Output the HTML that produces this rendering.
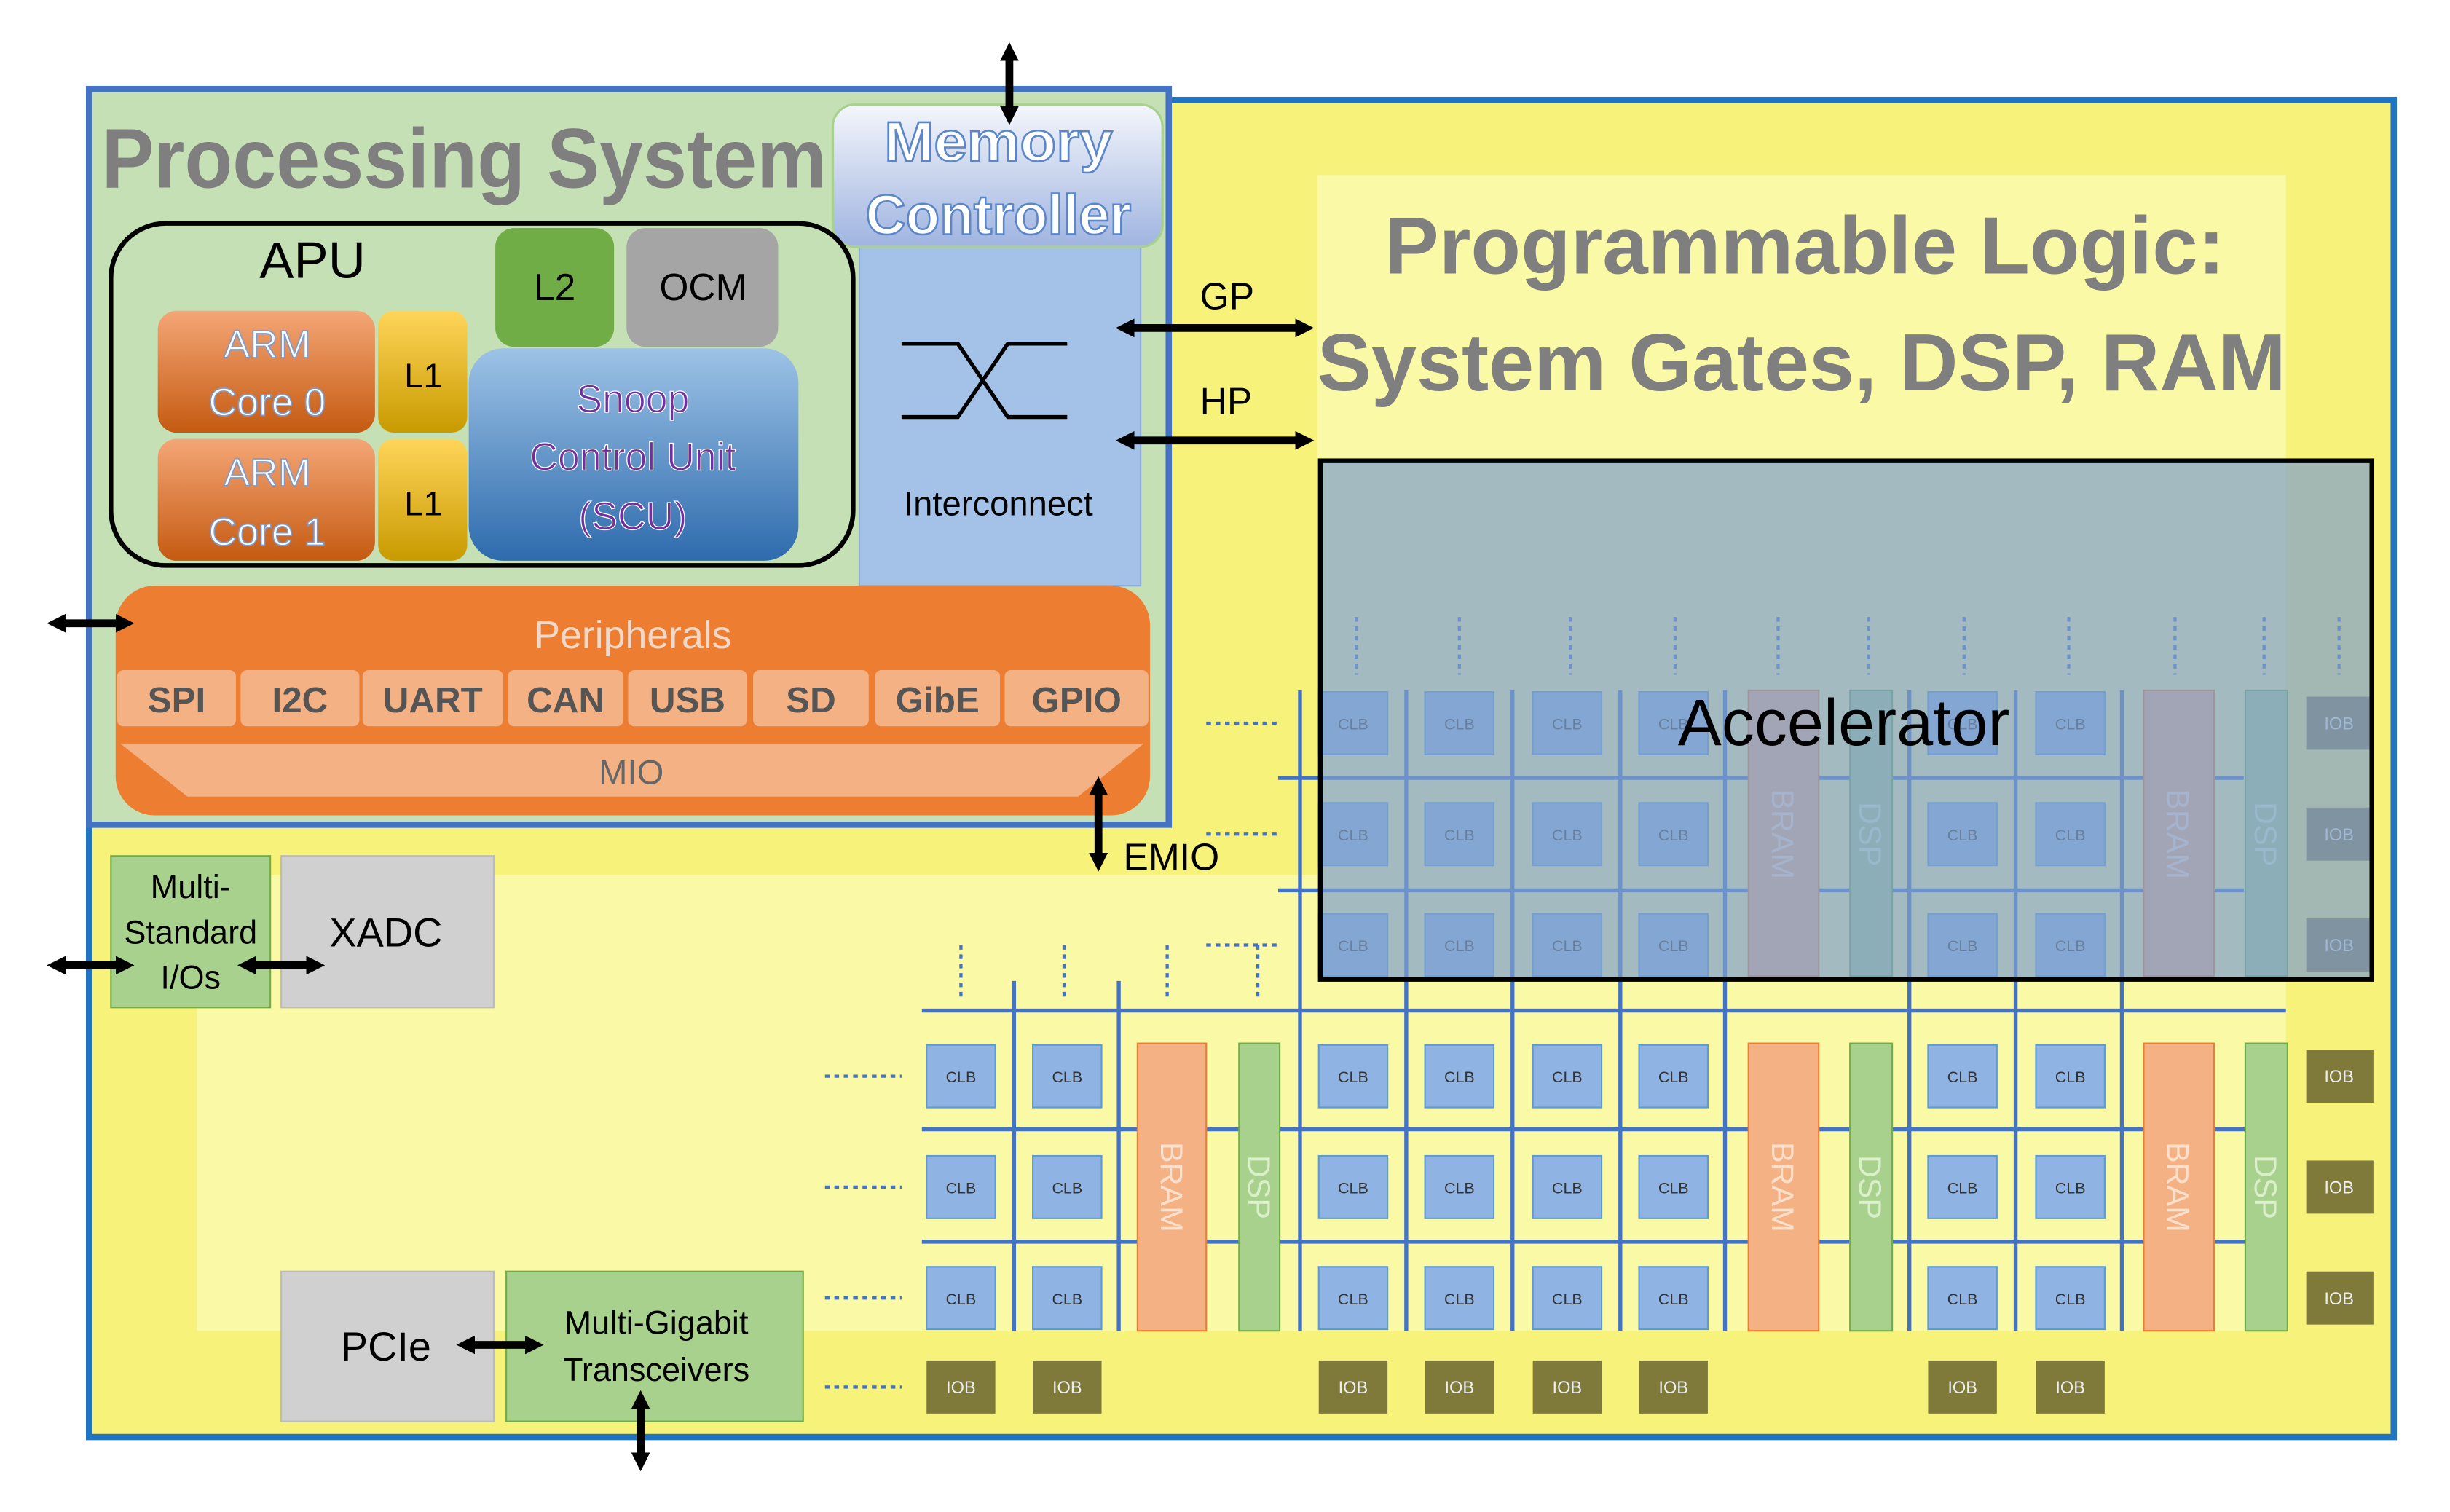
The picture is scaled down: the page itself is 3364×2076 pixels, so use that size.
<!DOCTYPE html>
<html><head><meta charset="utf-8"><style>
html,body{margin:0;padding:0;background:#fff;}
svg{display:block;}
text{font-family:"Liberation Sans",sans-serif;}
.clb rect{fill:#8fb4e3;stroke:#5b9bd5;stroke-width:1}
.clbt{font-size:10px;fill:#333;text-anchor:middle;}
.iob{fill:#7f7a3a;}
.iobt{font-size:11px;fill:#eee;text-anchor:middle;}
.tab{fill:#f4b183;}
.tabt{font-size:23px;fill:#555;text-anchor:middle;font-weight:bold;}
.vl{stroke:#4472c4;stroke-width:2.5;}
.dl{stroke:#4472c4;stroke-width:2;stroke-dasharray:3 3;}
</style></head><body>
<svg width="3364" height="2076" viewBox="0 0 1568 968" preserveAspectRatio="none" xmlns="http://www.w3.org/2000/svg">
<defs>
<marker id="ah" markerWidth="12" markerHeight="12" refX="7" refY="6" orient="auto-start-reverse" markerUnits="userSpaceOnUse"><path d="M0,0 L12,6 L0,12 z" fill="#000"/></marker>
<linearGradient id="mc" x1="0" y1="0" x2="0" y2="1"><stop offset="0" stop-color="#f4f6fb"/><stop offset="1" stop-color="#9fb4e0"/></linearGradient>
<linearGradient id="arm" x1="0" y1="0" x2="0" y2="1"><stop offset="0" stop-color="#f4a676"/><stop offset="1" stop-color="#c55a11"/></linearGradient>
<linearGradient id="l1" x1="0" y1="0" x2="0" y2="1"><stop offset="0" stop-color="#ffd55a"/><stop offset="1" stop-color="#c89a00"/></linearGradient>
<linearGradient id="scu" x1="0" y1="0" x2="0" y2="1"><stop offset="0" stop-color="#9dc3e6"/><stop offset="1" stop-color="#2e6bad"/></linearGradient>
</defs>
<rect x="57" y="64" width="1475" height="856" fill="#f7f27a" stroke="#1f75c4" stroke-width="4"/>
<rect x="843" y="112" width="620" height="540" fill="#f9f9a6"/>
<rect x="126" y="560" width="1337" height="292" fill="#f9f9a6"/>
<text x="886" y="175" font-size="52" fill="#7f7f7f" font-weight="bold" textLength="538" lengthAdjust="spacingAndGlyphs">Programmable Logic:</text>
<text x="843" y="250" font-size="52" fill="#7f7f7f" font-weight="bold" textLength="620" lengthAdjust="spacingAndGlyphs">System Gates, DSP, RAM</text>

<g class="vl">
<line x1="818" y1="498" x2="1436" y2="498"/><line x1="818" y1="570" x2="1436" y2="570"/>
<line x1="590" y1="647" x2="1463" y2="647"/><line x1="590" y1="723" x2="1463" y2="723"/><line x1="590" y1="795" x2="1463" y2="795"/>
<line x1="832" y1="442" x2="832" y2="852"/><line x1="900" y1="442" x2="900" y2="852"/><line x1="968" y1="442" x2="968" y2="852"/><line x1="1037" y1="442" x2="1037" y2="852"/><line x1="1104" y1="442" x2="1104" y2="852"/><line x1="1222" y1="442" x2="1222" y2="852"/><line x1="1290" y1="442" x2="1290" y2="852"/><line x1="1358" y1="442" x2="1358" y2="852"/>
<line x1="649" y1="628" x2="649" y2="852"/><line x1="716" y1="628" x2="716" y2="852"/>
</g>
<g class="dl">
<line x1="868" y1="395" x2="868" y2="432"/><line x1="934" y1="395" x2="934" y2="432"/><line x1="1005" y1="395" x2="1005" y2="432"/><line x1="1072" y1="395" x2="1072" y2="432"/><line x1="1138" y1="395" x2="1138" y2="432"/><line x1="1196" y1="395" x2="1196" y2="432"/><line x1="1257" y1="395" x2="1257" y2="432"/><line x1="1324" y1="395" x2="1324" y2="432"/><line x1="1392" y1="395" x2="1392" y2="432"/><line x1="1449" y1="395" x2="1449" y2="432"/><line x1="1497" y1="395" x2="1497" y2="432"/>
<line x1="615" y1="605" x2="615" y2="640"/><line x1="681" y1="605" x2="681" y2="640"/><line x1="747" y1="605" x2="747" y2="640"/><line x1="805" y1="605" x2="805" y2="640"/>
<line x1="772" y1="463" x2="820" y2="463"/><line x1="772" y1="534" x2="820" y2="534"/><line x1="772" y1="605" x2="820" y2="605"/>
<line x1="528" y1="689" x2="577" y2="689"/><line x1="528" y1="760" x2="577" y2="760"/><line x1="528" y1="831" x2="577" y2="831"/><line x1="528" y1="888" x2="577" y2="888"/>
</g>

<g font-size="20" text-anchor="middle">
<rect x="1119" y="442" width="45" height="183" fill="#f4b183" stroke="#ed7d31"/>
<rect x="1184" y="442" width="27" height="183" fill="#a9d18e" stroke="#70ad47"/>
<rect x="1372" y="442" width="45" height="183" fill="#f4b183" stroke="#ed7d31"/>
<rect x="1437" y="442" width="27" height="183" fill="#a9d18e" stroke="#70ad47"/>
<rect x="728" y="668" width="44" height="184" fill="#f4b183" stroke="#ed7d31"/>
<rect x="793" y="668" width="26" height="184" fill="#a9d18e" stroke="#70ad47"/>
<rect x="1119" y="668" width="45" height="184" fill="#f4b183" stroke="#ed7d31"/>
<rect x="1184" y="668" width="27" height="184" fill="#a9d18e" stroke="#70ad47"/>
<rect x="1372" y="668" width="45" height="184" fill="#f4b183" stroke="#ed7d31"/>
<rect x="1437" y="668" width="27" height="184" fill="#a9d18e" stroke="#70ad47"/>
<text transform="translate(1134,534) rotate(90)" fill="#fde0cc">BRAM</text>
<text transform="translate(1190,534) rotate(90)" fill="#d9f0c8">DSP</text>
<text transform="translate(1387,534) rotate(90)" fill="#fde0cc">BRAM</text>
<text transform="translate(1443,534) rotate(90)" fill="#d9f0c8">DSP</text>
<text transform="translate(743,760) rotate(90)" fill="#fde0cc">BRAM</text>
<text transform="translate(799,760) rotate(90)" fill="#d9f0c8">DSP</text>
<text transform="translate(1134,760) rotate(90)" fill="#fde0cc">BRAM</text>
<text transform="translate(1190,760) rotate(90)" fill="#d9f0c8">DSP</text>
<text transform="translate(1387,760) rotate(90)" fill="#fde0cc">BRAM</text>
<text transform="translate(1443,760) rotate(90)" fill="#d9f0c8">DSP</text>
</g>

<g class="clb">
<rect x="844" y="443" width="44" height="40"/><rect x="912" y="443" width="44" height="40"/><rect x="981" y="443" width="44" height="40"/><rect x="1049" y="443" width="44" height="40"/><rect x="1234" y="443" width="44" height="40"/><rect x="1303" y="443" width="44" height="40"/>
<rect x="844" y="514" width="44" height="40"/><rect x="912" y="514" width="44" height="40"/><rect x="981" y="514" width="44" height="40"/><rect x="1049" y="514" width="44" height="40"/><rect x="1234" y="514" width="44" height="40"/><rect x="1303" y="514" width="44" height="40"/>
<rect x="844" y="585" width="44" height="40"/><rect x="912" y="585" width="44" height="40"/><rect x="981" y="585" width="44" height="40"/><rect x="1049" y="585" width="44" height="40"/><rect x="1234" y="585" width="44" height="40"/><rect x="1303" y="585" width="44" height="40"/>
<rect x="593" y="669" width="44" height="40"/><rect x="661" y="669" width="44" height="40"/><rect x="844" y="669" width="44" height="40"/><rect x="912" y="669" width="44" height="40"/><rect x="981" y="669" width="44" height="40"/><rect x="1049" y="669" width="44" height="40"/><rect x="1234" y="669" width="44" height="40"/><rect x="1303" y="669" width="44" height="40"/>
<rect x="593" y="740" width="44" height="40"/><rect x="661" y="740" width="44" height="40"/><rect x="844" y="740" width="44" height="40"/><rect x="912" y="740" width="44" height="40"/><rect x="981" y="740" width="44" height="40"/><rect x="1049" y="740" width="44" height="40"/><rect x="1234" y="740" width="44" height="40"/><rect x="1303" y="740" width="44" height="40"/>
<rect x="593" y="811" width="44" height="40"/><rect x="661" y="811" width="44" height="40"/><rect x="844" y="811" width="44" height="40"/><rect x="912" y="811" width="44" height="40"/><rect x="981" y="811" width="44" height="40"/><rect x="1049" y="811" width="44" height="40"/><rect x="1234" y="811" width="44" height="40"/><rect x="1303" y="811" width="44" height="40"/>
</g>
<g class="clbt">
<text x="866" y="467">CLB</text><text x="934" y="467">CLB</text><text x="1003" y="467">CLB</text><text x="1071" y="467">CLB</text><text x="1256" y="467">CLB</text><text x="1325" y="467">CLB</text>
<text x="866" y="538">CLB</text><text x="934" y="538">CLB</text><text x="1003" y="538">CLB</text><text x="1071" y="538">CLB</text><text x="1256" y="538">CLB</text><text x="1325" y="538">CLB</text>
<text x="866" y="609">CLB</text><text x="934" y="609">CLB</text><text x="1003" y="609">CLB</text><text x="1071" y="609">CLB</text><text x="1256" y="609">CLB</text><text x="1325" y="609">CLB</text>
<text x="615" y="693">CLB</text><text x="683" y="693">CLB</text><text x="866" y="693">CLB</text><text x="934" y="693">CLB</text><text x="1003" y="693">CLB</text><text x="1071" y="693">CLB</text><text x="1256" y="693">CLB</text><text x="1325" y="693">CLB</text>
<text x="615" y="764">CLB</text><text x="683" y="764">CLB</text><text x="866" y="764">CLB</text><text x="934" y="764">CLB</text><text x="1003" y="764">CLB</text><text x="1071" y="764">CLB</text><text x="1256" y="764">CLB</text><text x="1325" y="764">CLB</text>
<text x="615" y="835">CLB</text><text x="683" y="835">CLB</text><text x="866" y="835">CLB</text><text x="934" y="835">CLB</text><text x="1003" y="835">CLB</text><text x="1071" y="835">CLB</text><text x="1256" y="835">CLB</text><text x="1325" y="835">CLB</text>
</g>
<g class="iob">
<rect x="593" y="871" width="44" height="34"/><rect x="661" y="871" width="44" height="34"/><rect x="844" y="871" width="44" height="34"/><rect x="912" y="871" width="44" height="34"/><rect x="981" y="871" width="44" height="34"/><rect x="1049" y="871" width="44" height="34"/><rect x="1234" y="871" width="44" height="34"/><rect x="1303" y="871" width="44" height="34"/>
<rect x="1476" y="446" width="43" height="34"/><rect x="1476" y="517" width="43" height="34"/><rect x="1476" y="588" width="43" height="34"/><rect x="1476" y="672" width="43" height="34"/><rect x="1476" y="743" width="43" height="34"/><rect x="1476" y="814" width="43" height="34"/>
</g>
<g class="iobt">
<text x="615" y="892">IOB</text><text x="683" y="892">IOB</text><text x="866" y="892">IOB</text><text x="934" y="892">IOB</text><text x="1003" y="892">IOB</text><text x="1071" y="892">IOB</text><text x="1256" y="892">IOB</text><text x="1325" y="892">IOB</text>
<text x="1497" y="467">IOB</text><text x="1497" y="538">IOB</text><text x="1497" y="609">IOB</text><text x="1497" y="693">IOB</text><text x="1497" y="764">IOB</text><text x="1497" y="835">IOB</text>
</g>

<rect x="845" y="295" width="673" height="332" fill="#7f9fcc" fill-opacity="0.7" stroke="#000" stroke-width="3"/>
<text x="1180" y="477" font-size="42" text-anchor="middle" fill="#000">Accelerator</text>

<rect x="57" y="57" width="691" height="471" fill="#c5e0b4" stroke="#4472c4" stroke-width="4"/>
<text x="65" y="120" font-size="54" fill="#7f7f7f" font-weight="bold" textLength="464" lengthAdjust="spacingAndGlyphs">Processing System</text>
<rect x="550" y="158" width="180" height="217" fill="#a4c2e8" stroke="#8aaad8"/>
<rect x="533" y="67" width="211" height="91" rx="14" fill="url(#mc)" stroke="#a9d18e" stroke-width="1.5"/>
<g font-size="36" text-anchor="middle" fill="#fff" stroke="#5b86c9" stroke-width="1.2" font-weight="bold">
<text x="639" y="103" textLength="146" lengthAdjust="spacingAndGlyphs">Memory</text><text x="639" y="150" textLength="170" lengthAdjust="spacingAndGlyphs">Controller</text></g>
<path d="M577,220 H613 L645,267 H683 M577,267 H613 L645,220 H683" fill="none" stroke="#000" stroke-width="2.5"/>
<text x="639" y="330" font-size="22" text-anchor="middle">Interconnect</text>

<rect x="71" y="143" width="475" height="219" rx="35" fill="none" stroke="#000" stroke-width="3"/>
<text x="200" y="178" font-size="33" text-anchor="middle">APU</text>
<rect x="317" y="146" width="76" height="76" rx="12" fill="#70ad47"/>
<text x="355" y="192" font-size="24" text-anchor="middle">L2</text>
<rect x="401" y="146" width="97" height="76" rx="12" fill="#a5a5a5"/>
<text x="450" y="192" font-size="24" text-anchor="middle">OCM</text>
<rect x="101" y="199" width="139" height="78" rx="12" fill="url(#arm)"/>
<rect x="101" y="281" width="139" height="78" rx="12" fill="url(#arm)"/>
<rect x="242" y="199" width="57" height="78" rx="10" fill="url(#l1)"/>
<rect x="242" y="281" width="57" height="78" rx="10" fill="url(#l1)"/>
<g font-size="25" text-anchor="middle" fill="#fff" stroke="#7a9cd0" stroke-width="0.8">
<text x="171" y="229">ARM</text><text x="171" y="266">Core 0</text>
<text x="171" y="311">ARM</text><text x="171" y="349">Core 1</text></g>
<text x="271" y="248" font-size="22" text-anchor="middle">L1</text>
<text x="271" y="330" font-size="22" text-anchor="middle">L1</text>
<rect x="300" y="223" width="211" height="136" rx="22" fill="url(#scu)"/>
<g font-size="25" text-anchor="middle" fill="#7030a0" stroke="#fff" stroke-width="0.6">
<text x="405" y="264">Snoop</text><text x="405" y="301">Control Unit</text><text x="405" y="339">(SCU)</text></g>

<rect x="74" y="375" width="662" height="147" rx="25" fill="#ed7d31"/>
<text x="405" y="415" font-size="25" text-anchor="middle" fill="#f2d8c8">Peripherals</text>
<g class="tab">
<rect x="75" y="429" width="76" height="36" rx="4"/><rect x="154" y="429" width="76" height="36" rx="4"/><rect x="232" y="429" width="90" height="36" rx="4"/><rect x="325" y="429" width="74" height="36" rx="4"/><rect x="402" y="429" width="76" height="36" rx="4"/><rect x="482" y="429" width="74" height="36" rx="4"/><rect x="560" y="429" width="80" height="36" rx="4"/><rect x="643" y="429" width="92" height="36" rx="4"/>
</g>
<g class="tabt">
<text x="113" y="456">SPI</text><text x="192" y="456">I2C</text><text x="277" y="456">UART</text><text x="362" y="456">CAN</text><text x="440" y="456">USB</text><text x="519" y="456">SD</text><text x="600" y="456">GibE</text><text x="689" y="456">GPIO</text>
</g>
<path d="M77,476 H732 L690,510 H120 Z" fill="#f4b183"/>
<text x="404" y="502" font-size="22" text-anchor="middle" fill="#666">MIO</text>

<rect x="71" y="548" width="102" height="97" fill="#a9d18e" stroke="#70ad47"/>
<g font-size="21" text-anchor="middle"><text x="122" y="575">Multi-</text><text x="122" y="604">Standard</text><text x="122" y="633">I/Os</text></g>
<rect x="180" y="548" width="136" height="97" fill="#d0d0d0" stroke="#bbb"/>
<text x="247" y="606" font-size="26" text-anchor="middle">XADC</text>
<rect x="180" y="814" width="136" height="96" fill="#d0d0d0" stroke="#bbb"/>
<text x="247" y="871" font-size="26" text-anchor="middle">PCIe</text>
<rect x="324" y="814" width="190" height="96" fill="#a9d18e" stroke="#70ad47"/>
<g font-size="21" text-anchor="middle"><text x="420" y="854">Multi-Gigabit</text><text x="420" y="884">Transceivers</text></g>

<g stroke="#000" stroke-width="5" marker-start="url(#ah)" marker-end="url(#ah)">
<line x1="646" y1="32" x2="646" y2="75"/>
<line x1="35" y1="399" x2="81" y2="399"/>
<line x1="719" y1="210" x2="836" y2="210"/>
<line x1="719" y1="282" x2="836" y2="282"/>
<line x1="703" y1="502" x2="703" y2="553"/>
<line x1="35" y1="618" x2="81" y2="618"/>
<line x1="157" y1="618" x2="203" y2="618"/>
<line x1="297" y1="861" x2="343" y2="861"/>
<line x1="410" y1="895" x2="410" y2="937"/>
</g>
<g font-size="24"><text x="768" y="198">GP</text><text x="768" y="265">HP</text><text x="719" y="557">EMIO</text></g>
</svg>
</body></html>
